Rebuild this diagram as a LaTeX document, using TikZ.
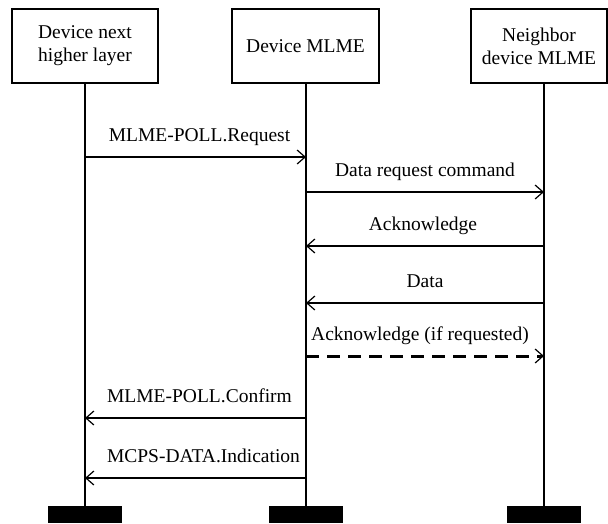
\documentclass[tikz,border=0pt]{standalone}
\usepackage{fontspec}
\setmainfont{Liberation Serif}
\usetikzlibrary{arrows.meta}
\begin{document}
\begin{tikzpicture}[x=1pt,y=-1pt,
  every node/.style={font=\fontsize{19.5}{23}\selectfont},
  entity/.style={draw, line width=1.4pt, minimum height=74pt, inner sep=0pt, align=center},
  lifeline/.style={line width=1.2pt},
  bar/.style={fill=black, minimum width=74pt, minimum height=17pt, inner sep=0pt, anchor=north},
  msg/.style={line width=1.2pt, -{Straight Barb[length=8pt,width=14pt,line width=1.2pt]}},
  optmsg/.style={msg, line width=3pt, dash pattern=on 13pt off 8pt},
  lbl/.style={anchor=base, yshift=16pt, inner sep=0pt}]
\useasboundingbox (0,0) rectangle (608,523);

% entities
\node[entity, minimum width=146pt] (hl)   at (85,46)    {Device next\\higher layer};
\node[entity, minimum width=147pt] (mlme) at (305.5,46) {Device MLME};
\node[entity, minimum width=136pt] (nb)   at (539,46)   {Neighbor\\device MLME};

% end-of-life bars
\node[bar] (b1) at (85,506)  {};
\node[bar] (b2) at (306,506) {};
\node[bar] (b3) at (544,506) {};

% lifelines
\draw[lifeline] (hl.south -| b1.north)   -- (b1.north);
\draw[lifeline] (mlme.south -| b2.north) -- (b2.north);
\draw[lifeline] (nb.south -| b3.north)   -- (b3.north);

% messages
\draw[msg] (b1.north |- 0,157) -- node[lbl, xshift=4pt] {MLME-POLL.Request} (b2.north |- 0,157);
\draw[msg] (b2.north |- 0,192) -- node[lbl] {Data request command} (b3.north |- 0,192);
\draw[msg] (b3.north |- 0,246) -- node[lbl, xshift=-2pt] {Acknowledge} (b2.north |- 0,246);
\draw[msg] (b3.north |- 0,303) -- node[lbl] {Data} (b2.north |- 0,303);
\draw[optmsg] (b2.north |- 0,356) -- node[lbl, xshift=-5pt] {Acknowledge (if requested)} (b3.north |- 0,356);
\draw[msg] (b2.north |- 0,418) -- node[lbl, xshift=4pt] {MLME-POLL.Confirm} (b1.north |- 0,418);
\draw[msg] (b2.north |- 0,478) -- node[lbl, xshift=8pt] {MCPS-DATA.Indication} (b1.north |- 0,478);
\end{tikzpicture}
\end{document}
